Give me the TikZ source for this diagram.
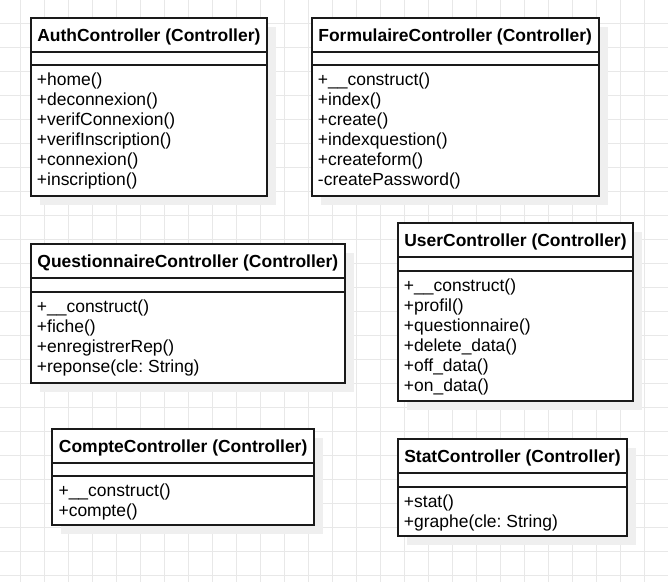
\documentclass[tikz,border=0pt]{standalone}
\usepackage{fontspec}
\setmainfont{Liberation Sans}
\usepackage{tikz}
\usetikzlibrary{calc}
\frenchspacing
\definecolor{lineDark}{HTML}{1A1A1A}
\definecolor{gridGray}{HTML}{E8E8E8}
\definecolor{shadowGray}{HTML}{EFEFEF}
\tikzset{
    classLine/.style={draw=lineDark, line width=1.3pt},
    classTitle/.style={anchor=base, inner sep=0pt, font=\fontsize{13.1}{15}\selectfont\bfseries},
    classOp/.style={anchor=base west, inner sep=0pt, font=\fontsize{13.1}{15}\selectfont},
    gridLine/.style={draw=gridGray, line width=0.75pt}
}
\newcommand{\DrawClass}[7]{
    % Shadow
    \fill[shadowGray] (#2+9, #3+9) rectangle (#4+9, #5+9);
    % Box and compartments
    \draw[classLine, fill=white] (#2, #3) rectangle (#4, #5);
    \draw[classLine] (#2, #3+34) -- (#4, #3+34);
    \draw[classLine] (#2, #3+47.5) -- (#4, #3+47.5);
    % Title and operations
    \node[classTitle] (#1-title) at ({(#2+#4)/2}, #3+23.3) {#6};
    \foreach \op [count=\i] in {#7}
        \node[classOp] (#1-op\i) at (#2+6, #3+68.2+20*\i-20) {\op};
}

\begin{document}
\begin{tikzpicture}[x=0.75pt, y=-0.75pt]
        % Page and grid
        \useasboundingbox (0,0) rectangle (668,582);
        \fill[white] (0,0) rectangle (668,582);
        \foreach \gx in {0,...,26}
            \draw[gridLine] (20.7+24*\gx, 0) -- (20.7+24*\gx, 582);
        \foreach \gy in {0,...,23}
            \draw[gridLine] (0, 23.3+24*\gy) -- (668, 23.3+24*\gy);

        % Controllers
        \DrawClass{auth}{30.7}{17.7}{267}{196}{AuthController (Controller)}{+home(), +deconnexion(), +verifConnexion(), +verifInscription(), +connexion(), +inscription()}
        \DrawClass{form}{311.7}{17.7}{598.7}{196}{FormulaireController (Controller)}{+\_\_construct(), +index(), +create(), +indexquestion(), +createform(), -createPassword()}
        \DrawClass{quest}{30.7}{244.3}{345}{382.7}{QuestionnaireController (Controller)}{+\_\_construct(), +fiche(), +enregistrerRep(), +reponse(cle: String)}
        \DrawClass{user}{397.7}{223.3}{633.3}{401}{UserController (Controller)}{+\_\_construct(), +profil(), +questionnaire(), +delete\_data(), +off\_data(), +on\_data()}
        \DrawClass{compte}{52.3}{428.7}{314}{525.3}{CompteController (Controller)}{+\_\_construct(), +compte()}
        \DrawClass{stat}{397.7}{439.3}{627.3}{536.3}{StatController (Controller)}{+stat(), +graphe(cle: String)}
    \end{tikzpicture}
\end{document}
